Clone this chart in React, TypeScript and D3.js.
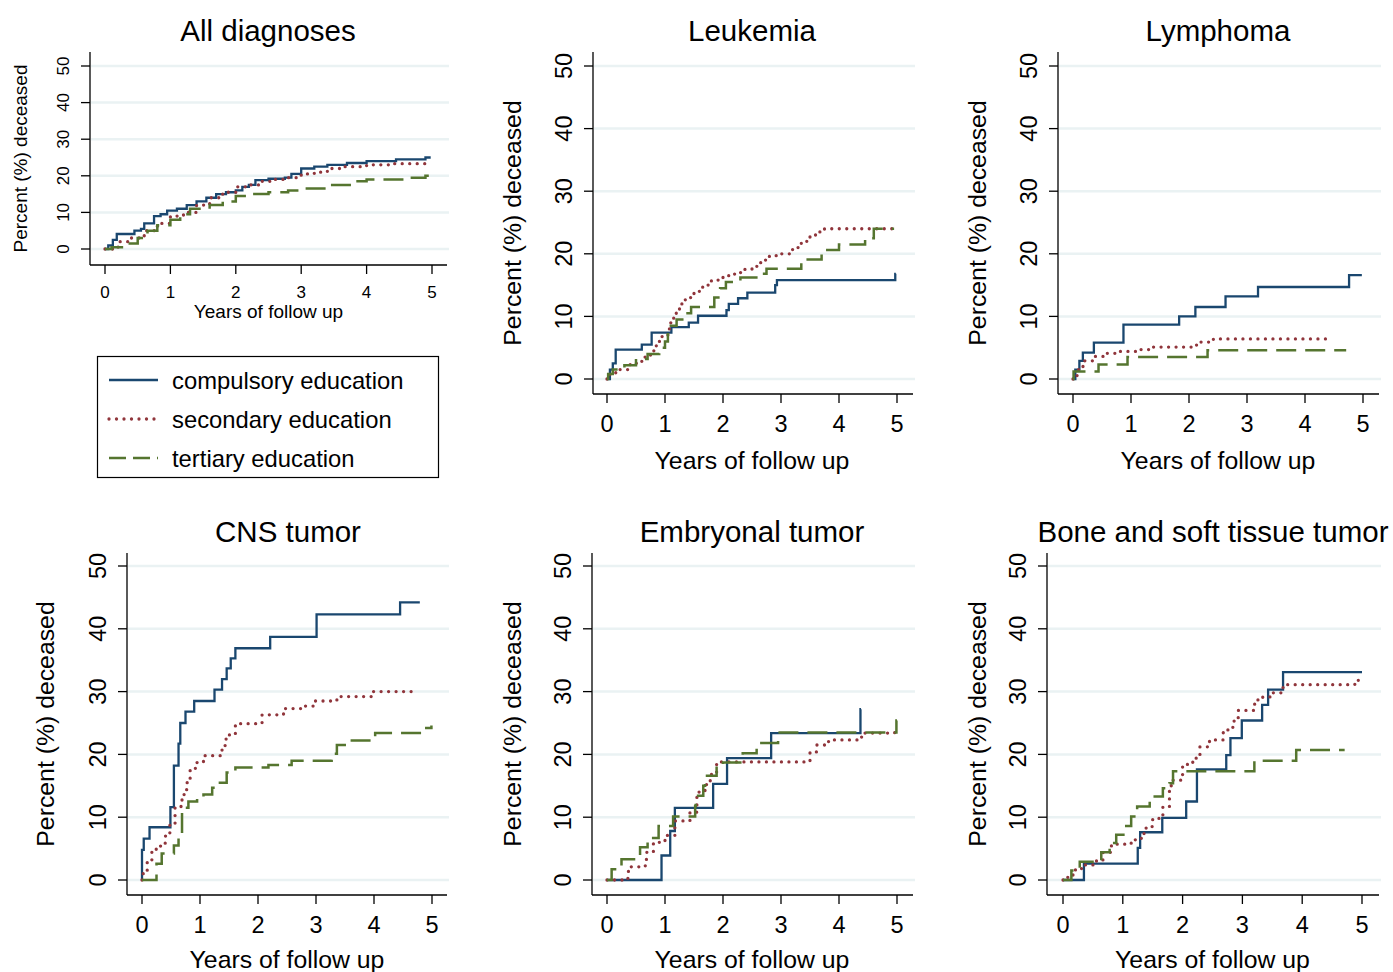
import React from "react";
import * as d3 from "d3";

type Pt = [number, number];

const seriesNames = ["compulsory education", "secondary education", "tertiary education"];
const seriesColors = ["#1a476f", "#90353b", "#55752f"];
const xTicks = [0, 1, 2, 3, 4, 5];
const yTicks = [0, 10, 20, 30, 40, 50];
const panelTitles = ["All diagnoses", "Leukemia", "Lymphoma", "CNS tumor", "Embryonal tumor", "Bone and soft tissue tumor"];

// All diagnoses
const allComp: Pt[] = [[0, 0], [0.05, 1], [0.12, 2.5], [0.18, 4.1], [0.45, 5], [0.55, 5.5], [0.6, 7], [0.75, 9], [0.85, 9.5], [0.95, 10.5], [1.1, 11], [1.25, 12], [1.4, 13], [1.55, 14], [1.7, 15], [1.85, 15.5], [2.0, 16], [2.1, 17], [2.2, 17.5], [2.3, 18.8], [2.5, 19.2], [2.75, 19.5], [2.85, 20.5], [3.0, 22], [3.2, 22.5], [3.4, 23], [3.7, 23.5], [4.0, 24], [4.45, 24.5], [4.9, 25], [4.98, 25]];
const allSec: Pt[] = [[0, 0], [0.2, 2], [0.4, 3], [0.6, 5], [0.8, 7], [1.0, 9], [1.2, 10], [1.4, 12], [1.6, 14], [1.8, 15.5], [2.0, 17], [2.2, 17.5], [2.4, 18.5], [2.6, 19], [2.8, 19.5], [3.0, 20.5], [3.2, 21], [3.4, 22], [3.6, 22.5], [4.0, 23], [4.4, 23.3], [4.9, 23.5], [4.98, 23.5]];
const allTer: Pt[] = [[0, 0], [0.1, 0.5], [0.3, 1.5], [0.5, 3], [0.65, 5], [0.8, 6.5], [1.0, 8], [1.15, 9.5], [1.3, 11], [1.6, 12], [1.8, 13], [2.0, 14.5], [2.2, 15], [2.5, 15.5], [2.8, 16], [3.0, 16.5], [3.4, 17.5], [3.8, 18.5], [4.0, 19], [4.6, 19.5], [4.9, 20], [4.98, 20]];

// Leukemia
const leuComp: Pt[] = [[0, 0], [0.05, 1.5], [0.1, 2.5], [0.15, 4.7], [0.6, 5.5], [0.77, 7.4], [1.11, 8.3], [1.41, 9.0], [1.57, 10.1], [2.06, 11.0], [2.1, 12.0], [2.26, 12.9], [2.42, 13.8], [2.9, 15.0], [2.93, 15.8], [4.97, 16.8], [4.98, 16.8]];
const leuSec: Pt[] = [[0, 0], [0.05, 1], [0.2, 1.5], [0.4, 2.5], [0.6, 3.5], [0.75, 4.5], [0.85, 6], [0.95, 7], [1.05, 8], [1.1, 9], [1.15, 10.5], [1.25, 12], [1.35, 13], [1.5, 14], [1.65, 15], [1.8, 15.8], [2.0, 16.5], [2.2, 17], [2.35, 17.5], [2.5, 18], [2.65, 19], [2.8, 19.7], [3.0, 20], [3.2, 21], [3.35, 22], [3.5, 23], [3.6, 23.5], [3.75, 24], [4.95, 24]];
const leuTer: Pt[] = [[0, 0], [0.02, 0.8], [0.1, 1.5], [0.3, 2.2], [0.5, 3.2], [0.7, 4], [0.9, 5], [1.0, 6], [1.05, 7.5], [1.1, 8.5], [1.2, 9.5], [1.35, 10.5], [1.45, 11.5], [1.85, 13], [1.95, 14.5], [2.05, 15.5], [2.3, 16.2], [2.6, 16.8], [2.75, 17.6], [3.35, 19.1], [3.7, 20.6], [4.0, 21.5], [4.45, 22.5], [4.6, 24], [4.95, 24]];

// Lymphoma
const lymComp: Pt[] = [[0, 0], [0.04, 1.5], [0.11, 2.9], [0.17, 4.2], [0.36, 5.8], [0.87, 8.7], [1.83, 10.0], [2.11, 11.5], [2.63, 13.2], [3.19, 14.7], [4.76, 16.6], [4.98, 16.6]];
const lymSec: Pt[] = [[0, 0], [0.07, 1.5], [0.1, 2.0], [0.18, 2.9], [0.36, 3.6], [0.53, 4.1], [0.76, 4.4], [1.16, 4.7], [1.33, 5.1], [2.05, 5.1], [2.13, 5.9], [2.42, 6.4], [4.37, 6.4]];
const lymTer: Pt[] = [[0, 0], [0.01, 1.2], [0.44, 2.3], [0.94, 3.5], [2.32, 4.6], [4.71, 4.6]];

// CNS tumor
const cnsComp: Pt[] = [[0, 0], [0.0, 4.8], [0.03, 6.6], [0.13, 8.4], [0.49, 11.6], [0.55, 18.2], [0.63, 21.7], [0.66, 25], [0.75, 26.8], [0.9, 28.5], [1.25, 30.3], [1.38, 32], [1.46, 33.7], [1.53, 35.3], [1.61, 36.9], [2.21, 38.7], [3.01, 42.3], [4.45, 44.2], [4.79, 44.2]];
const cnsSec: Pt[] = [[0, 0], [0.01, 1], [0.09, 2.8], [0.17, 4.9], [0.32, 5.8], [0.4, 7], [0.48, 8.8], [0.57, 11.7], [0.69, 13.6], [0.77, 15.5], [0.83, 17.6], [0.92, 18.7], [1.06, 19.8], [1.38, 21.4], [1.45, 23.1], [1.61, 24.9], [2.07, 26.3], [2.44, 27.3], [2.75, 27.7], [2.96, 28.5], [3.36, 29.2], [3.99, 30.0], [4.76, 30.0]];
const cnsTer: Pt[] = [[0, 0], [0.25, 2.6], [0.34, 4.2], [0.55, 5.5], [0.63, 7.4], [0.69, 11.5], [0.8, 12.5], [0.95, 13.1], [1.06, 13.6], [1.21, 14.7], [1.29, 15.5], [1.46, 17.1], [1.61, 17.9], [2.18, 18.3], [2.58, 19.0], [3.27, 20.1], [3.36, 21.5], [3.56, 22.2], [4.02, 23.4], [4.79, 24.2], [4.99, 24.6]];

// Embryonal tumor
const embComp: Pt[] = [[0, 0], [0.94, 3.9], [1.09, 7.8], [1.17, 11.5], [1.83, 15.3], [2.07, 19.4], [2.83, 23.4], [4.37, 27.2], [4.38, 27.2]];
const embSec: Pt[] = [[0, 0], [0.36, 0.9], [0.37, 2.1], [0.66, 3.2], [0.68, 4.4], [0.8, 6], [1.0, 7.1], [1.17, 9.4], [1.43, 10.8], [1.55, 14], [1.69, 15.2], [1.78, 16.8], [1.89, 18.8], [3.5, 20.3], [3.61, 21.5], [3.82, 22.3], [4.39, 23.4], [4.96, 24.0], [4.99, 24.0]];
const embTer: Pt[] = [[0, 0], [0.08, 1.7], [0.25, 3.3], [0.57, 5.2], [0.7, 6.7], [0.89, 8.6], [1.14, 10.1], [1.52, 11.8], [1.53, 13.4], [1.66, 15], [1.69, 16.6], [1.89, 18.4], [2.0, 18.7], [2.34, 20.2], [2.58, 21.8], [2.95, 23.5], [4.99, 25.4], [5.0, 25.4]];

// Bone and soft tissue tumor
const boneComp: Pt[] = [[0, 0], [0.35, 2.6], [1.25, 5.1], [1.29, 7.6], [1.66, 9.9], [2.06, 12.5], [2.24, 17.6], [2.73, 19.9], [2.8, 22.6], [2.99, 25.4], [3.33, 27.9], [3.43, 30.3], [3.68, 33.1], [5.0, 33.1]];
const boneSec: Pt[] = [[0, 0], [0.08, 0.8], [0.17, 1.6], [0.31, 2.4], [0.56, 3.2], [0.67, 4.4], [0.81, 5.7], [1.14, 6.4], [1.31, 7.4], [1.39, 8.5], [1.5, 9.8], [1.67, 11.7], [1.78, 14.1], [1.81, 15.9], [2.0, 18.4], [2.17, 19.4], [2.29, 21.2], [2.45, 22.3], [2.68, 23.9], [2.84, 25.3], [2.93, 27], [3.2, 28], [3.26, 29.1], [3.46, 29.8], [3.68, 31.1], [4.88, 31.8], [4.97, 31.8]];
const boneTer: Pt[] = [[0, 0], [0.14, 1.5], [0.28, 2.9], [0.64, 4.4], [0.78, 5.9], [0.89, 7.2], [1.01, 8.6], [1.14, 10.1], [1.24, 11.7], [1.45, 13.3], [1.67, 14.6], [1.78, 15.4], [1.84, 17.3], [3.2, 19.0], [3.9, 20.7], [4.71, 20.7]];

const panelData: Pt[][][] = [
  [allComp, allSec, allTer],
  [leuComp, leuSec, leuTer],
  [lymComp, lymSec, lymTer],
  [cnsComp, cnsSec, cnsTer],
  [embComp, embSec, embTer],
  [boneComp, boneSec, boneTer],
];

interface Layout {
  axisX: number; x0: number; x1: number; y0: number; y50: number;
  axisTop: number; axisBottom: number; axisRight: number;
  tickFont: number; labelFont: number; tickLabelY: number; xLabelY: number;
  yLabelX: number; yTickX: number; titleX: number; titleY: number;
}

const row1 = { y0: 379, y50: 66, axisTop: 52, axisBottom: 394, tickFont: 23.5, labelFont: 24.8, tickLabelY: 424, xLabelY: 460, titleY: 30 };
const row2 = { y0: 880, y50: 566, axisTop: 553, axisBottom: 895, tickFont: 23.5, labelFont: 24.8, tickLabelY: 925, xLabelY: 959, titleY: 531 };

const layouts: Layout[] = [
  { axisX: 90, x0: 105, x1: 432, y0: 249, y50: 66, axisTop: 52, axisBottom: 265, axisRight: 447, tickFont: 17, labelFont: 19, tickLabelY: 292, xLabelY: 311, yLabelX: 20, yTickX: 63, titleX: 268, titleY: 30 },
  { ...row1, axisX: 593, x0: 607, x1: 897, axisRight: 913, yLabelX: 512, yTickX: 564, titleX: 752 },
  { ...row1, axisX: 1058, x0: 1073, x1: 1363, axisRight: 1379, yLabelX: 977, yTickX: 1029, titleX: 1218 },
  { ...row2, axisX: 127, x0: 142, x1: 432, axisRight: 447, yLabelX: 45, yTickX: 98, titleX: 288 },
  { ...row2, axisX: 592, x0: 607, x1: 897, axisRight: 913, yLabelX: 512, yTickX: 563, titleX: 752 },
  { ...row2, axisX: 1047, x0: 1063, x1: 1362, axisRight: 1379, yLabelX: 977, yTickX: 1018, titleX: 1213 },
];

const font = "'Liberation Sans', Arial, sans-serif";
const dashes = ["none", "0 7.5", "20 9"];
const caps: ("butt" | "round")[] = ["butt", "round", "butt"];
const widths = [2.3, 3.3, 2.5];

function Panel({ idx }: { idx: number }) {
  const L = layouts[idx];
  const x = d3.scaleLinear().domain([0, 5]).range([L.x0, L.x1]);
  const y = d3.scaleLinear().domain([0, 50]).range([L.y0, L.y50]);
  const line = d3.line<Pt>().x((d) => x(d[0])).y((d) => y(d[1])).curve(d3.curveStepAfter);
  const yMid = (L.axisTop + L.axisBottom) / 2;
  return (
    <g>
      {yTicks.map((t) => (
        <line key={"g" + t} x1={L.axisX + 1} x2={L.axisRight + 2} y1={y(t)} y2={y(t)} stroke="#eaf2f3" strokeWidth={2.5} />
      ))}
      {panelData[idx].map((s, i) => (
        <path key={i} d={line(s) || ""} fill="none" stroke={seriesColors[i]} strokeWidth={widths[i]}
          strokeDasharray={dashes[i]} strokeLinecap={caps[i]} />
      ))}
      <line x1={L.axisX} x2={L.axisX} y1={L.axisTop} y2={L.axisBottom} stroke="#000" strokeWidth={1.3} />
      <line x1={L.axisX} x2={L.axisRight} y1={L.axisBottom} y2={L.axisBottom} stroke="#000" strokeWidth={1.3} />
      {yTicks.map((t) => (
        <g key={"y" + t}>
          <line x1={L.axisX - 9} x2={L.axisX} y1={y(t)} y2={y(t)} stroke="#000" strokeWidth={1.3} />
          <text transform={`translate(${L.yTickX},${y(t)}) rotate(-90)`} textAnchor="middle" dy="0.36em"
            fontSize={L.tickFont} fontFamily={font}>{t}</text>
        </g>
      ))}
      {xTicks.map((t) => (
        <g key={"x" + t}>
          <line x1={x(t)} x2={x(t)} y1={L.axisBottom} y2={L.axisBottom + 9} stroke="#000" strokeWidth={1.3} />
          <text x={x(t)} y={L.tickLabelY} textAnchor="middle" dy="0.36em" fontSize={L.tickFont} fontFamily={font}>{t}</text>
        </g>
      ))}
      <text x={(L.x0 + L.x1) / 2} y={L.xLabelY} textAnchor="middle" dy="0.36em" fontSize={L.labelFont} fontFamily={font}>
        Years of follow up
      </text>
      <text transform={`translate(${L.yLabelX},${yMid}) rotate(-90)`} textAnchor="middle" dy="0.36em"
        fontSize={L.labelFont} fontFamily={font}>Percent (%) deceased</text>
      <text x={L.titleX} y={L.titleY} textAnchor="middle" dy="0.36em" fontSize={29.5} fontFamily={font}>
        {panelTitles[idx]}
      </text>
    </g>
  );
}

function Legend() {
  const rowY = [380, 419, 458];
  return (
    <g>
      <rect x={97.5} y={356.5} width={341} height={121} fill="#fff" stroke="#000" strokeWidth={1.2} />
      {seriesNames.map((n, i) => (
        <g key={n}>
          <line x1={109} x2={158} y1={rowY[i]} y2={rowY[i]} stroke={seriesColors[i]} strokeWidth={widths[i]}
            strokeDasharray={i === 2 ? "17 7" : dashes[i]} strokeLinecap={caps[i]} />
          <text x={172} y={rowY[i]} dy="0.36em" fontSize={23.8} fontFamily={font}>{n}</text>
        </g>
      ))}
    </g>
  );
}

export default function App() {
  return (
    <div style={{ position: "absolute", left: 0, top: 0 }}>
      <svg width={1393} height={972} style={{ display: "block", background: "#fff" }}>
        {layouts.map((_, i) => (
          <Panel key={i} idx={i} />
        ))}
        <Legend />
      </svg>
    </div>
  );
}
